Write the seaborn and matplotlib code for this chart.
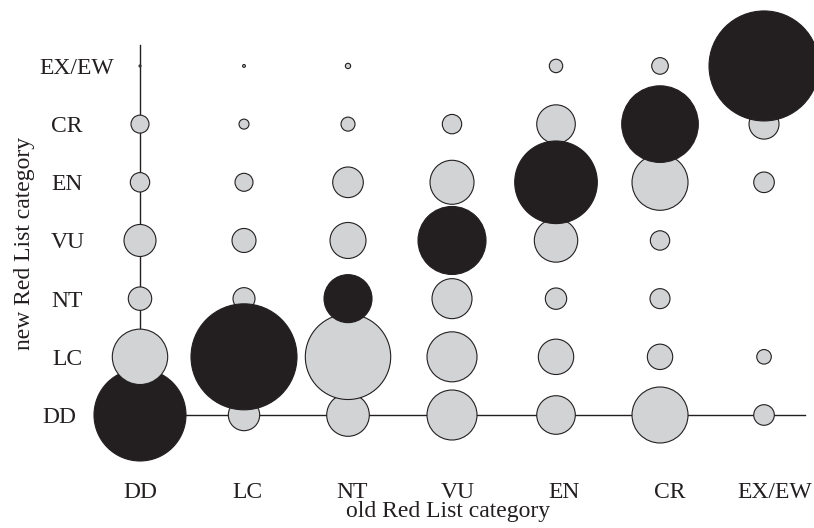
import matplotlib
matplotlib.use("Agg")
import matplotlib.pyplot as plt
from matplotlib.transforms import ScaledTranslation
import numpy as np
import pandas as pd
import seaborn as sns

# IUCN categories, shared by both axes
categories = ["DD", "LC", "NT", "VU", "EN", "CR", "EX/EW"]

# Relative number of species per transition (bubble area),
# one list per new category, ordered by old category.
new_DD = [211.6, 24.6, 45.4, 62.5, 37.2, 78.4, 10.6]
new_LC = [76.7, 280.9, 182.3, 62.5, 31.3, 16.1, 5.3]
new_NT = [13.7, 12.1, 57.6, 40.0, 11.4, 10.0, 0.0]
new_VU = [25.6, 14.4, 32.4, 115.6, 47.1, 9.4, 0.0]
new_EN = [9.4, 8.1, 23.4, 48.4, 170.6, 78.4, 10.6]
new_CR = [8.1, 2.5, 4.9, 9.4, 37.2, 146.7, 22.5]
new_EXEW = [0.1, 0.2, 0.7, 0.0, 4.5, 6.9, 302.5]

rows = [new_DD, new_LC, new_NT, new_VU, new_EN, new_CR, new_EXEW]

records = []
for j, vals in enumerate(rows):
    for i, v in enumerate(vals):
        if v > 0:
            records.append({"old": i, "new": j, "n": v})
df = pd.DataFrame(records)
df["same"] = df["old"] == df["new"]

sns.set_theme(style="white")
plt.rcParams["font.family"] = ["Liberation Serif", "DejaVu Serif"]

W, H = 814, 528
fig = plt.figure(figsize=(W / 100, H / 100), dpi=100)
ax = fig.add_axes([140 / W, 113 / H, 665 / W, 370 / H])

vmax = df["n"].max()
smax = 20.736 * vmax  # points^2 for the largest bubble
black = "#231f20"
grey = "#d1d3d4"

common = dict(x="old", y="new", size="n", sizes=(0, smax), size_norm=(0, vmax),
              legend=False, ax=ax, clip_on=False, edgecolor=black, linewidth=0.8)

# grey (changed category) bubbles, then unchanged (black), then grey in the DD column on top
sns.scatterplot(data=df[(~df["same"]) & (df["old"] != 0)], color=grey, zorder=3, **common)
sns.scatterplot(data=df[df["same"]], color=black, zorder=4, **common)
sns.scatterplot(data=df[(~df["same"]) & (df["old"] == 0)], color=grey, zorder=5, **common)

ax.set_xlim(0, 6.394)
ax.set_ylim(0, 6.36)

for side in ["top", "right"]:
    ax.spines[side].set_visible(False)
for side in ["left", "bottom"]:
    ax.spines[side].set_color(black)
    ax.spines[side].set_linewidth(1.0)
    ax.spines[side].set_zorder(2)

fs = 17
ax.set_xticks(range(len(categories)))
ax.set_xticklabels(categories, fontsize=fs, color=black)
ax.set_yticks(range(len(categories)))
ax.set_yticklabels(categories, fontsize=fs, color=black)
ax.tick_params(axis="x", length=0, pad=48)
ax.tick_params(axis="y", length=0, pad=52.6)

# small hand-set nudges of the category labels (pixels)
x_nudge = [0.5, 3, 4, 6, 8, 10, 11]
y_nudge = [-8, 0, 0, 1, 0, 0, 10]
for lab, dx in zip(ax.get_xticklabels(), x_nudge):
    lab.set_transform(lab.get_transform() + ScaledTranslation(dx / 100, 0, fig.dpi_scale_trans))
for lab, dx in zip(ax.get_yticklabels(), y_nudge):
    lab.set_ha("center")
    lab.set_transform(lab.get_transform() + ScaledTranslation(dx / 100, 0, fig.dpi_scale_trans))

ax.set_xlabel("old Red List category", fontsize=fs, color=black)
ax.set_ylabel("new Red List category", fontsize=fs, color=black)
ax.xaxis.set_label_coords((448 - 140) / 665, (415 - 512) / 370)
ax.xaxis.label.set_va("center")
ax.yaxis.set_label_coords((25 - 140) / 665, (415 - 243) / 370)
ax.yaxis.label.set_va("center")
ax.yaxis.label.set_ha("center")

ax.grid(False)
fig.savefig("out.png", dpi=100)
